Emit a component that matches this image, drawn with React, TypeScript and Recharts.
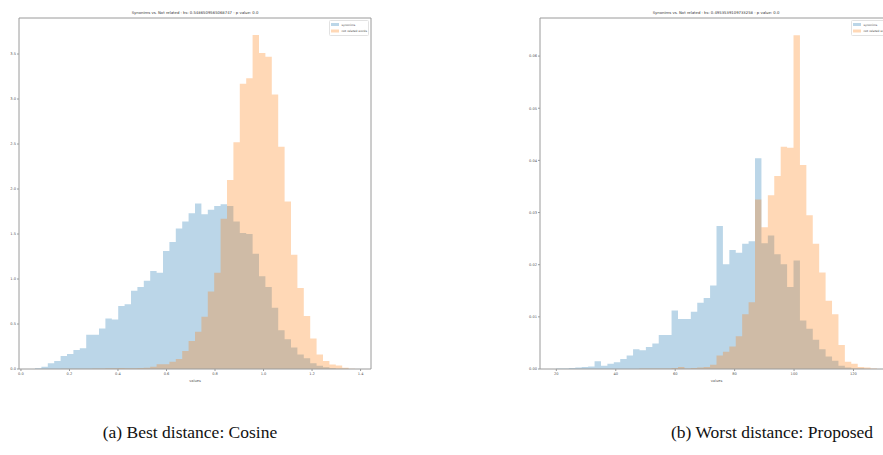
import { Area, ComposedChart, Legend, ReferenceLine, XAxis, YAxis } from 'recharts'

// histogram bins: both series share the same 50 edges per panel
const BINS = 50
const cosineRange = [0.058, 1.377]
const proposedRange = [19.9, 127.9]

const cosineSynonyms = [
	0.007, 0.026, 0.063, 0.089, 0.144, 0.167, 0.21, 0.23, 0.38, 0.38,
	0.45, 0.56, 0.55, 0.7, 0.72, 0.87, 0.91, 0.98, 1.09, 1.07,
	1.31, 1.41, 1.56, 1.64, 1.73, 1.84, 1.72, 1.77, 1.81, 1.83,
	1.81, 1.64, 1.51, 1.5, 1.28, 1.03, 0.91, 0.68, 0.43, 0.33,
	0.24, 0.16, 0.12, 0.063, 0.037, 0.019, 0.007, 0.004, 0.002, 0.001,
]
const cosineNotRelated = [
	0, 0, 0, 0.001, 0.002, 0.002, 0.003, 0.004, 0.004, 0.005,
	0.006, 0.008, 0.008, 0.01, 0.009, 0.008, 0.01, 0.015, 0.026, 0.053,
	0.053, 0.08, 0.11, 0.2, 0.31, 0.415, 0.58, 0.86, 1.07, 1.67,
	2.1, 2.52, 3.17, 3.23, 3.71, 3.51, 3.47, 3.05, 2.47, 1.86,
	1.27, 0.9, 0.59, 0.34, 0.16, 0.09, 0.05, 0.04, 0.015, 0.004,
]
const proposedSynonyms = [
	0.0001, 0.0001, 0.0002, 0.0003, 0.0004, 0.0005, 0.0015, 0.0006, 0.001, 0.0013,
	0.0019, 0.0026, 0.0038, 0.0036, 0.0042, 0.0049, 0.0065, 0.0065, 0.0112, 0.0096,
	0.0096, 0.011, 0.0127, 0.0136, 0.016, 0.0274, 0.0201, 0.0228, 0.0223, 0.024,
	0.0245, 0.0404, 0.0241, 0.0256, 0.022, 0.0201, 0.0157, 0.0208, 0.0093, 0.0077,
	0.0056, 0.0038, 0.0024, 0.0016, 0.0006, 0.0003, 0.0001, 0.0001, 0, 0,
]
const proposedNotRelated = [
	0, 0, 0, 0, 0, 0, 0, 0, 0, 0,
	0, 0, 0, 0.0001, 0.0001, 0.0001, 0.0001, 0.0001, 0.0002, 0.0004,
	0.0001, 0.0002, 0.0003, 0.0004, 0.0008, 0.0026, 0.0033, 0.0043, 0.0063, 0.0105,
	0.0128, 0.0325, 0.0272, 0.0333, 0.037, 0.0426, 0.0424, 0.064, 0.0391, 0.0295,
	0.024, 0.0185, 0.0131, 0.0105, 0.0046, 0.0014, 0.001, 0.0004, 0.0003, 0.0001,
]

const cosineXTicks = [0, 0.2, 0.4, 0.6, 0.8, 1.0, 1.2, 1.4]
const cosineYTicks = [0, 0.5, 1.0, 1.5, 2.0, 2.5, 3.0, 3.5]
const proposedXTicks = [20, 40, 60, 80, 100, 120]
const proposedYTicks = [0, 0.01, 0.02, 0.03, 0.04, 0.05, 0.06]

const seriesNames = ['synonims', 'not related words']
const cosineTitle = 'Synonims vs. Not related  - ks: 0.5486509565068747 - p value: 0.0'
const proposedTitle = 'Synonims vs. Not related  - ks: 0.4953539109733258 - p value: 0.0'

const BLUE = '#1f77b4'
const ORANGE = '#ff7f0e'
const SPINE = '#9a9a9a'
const FONT = 'DejaVu Sans, sans-serif'
const tickStyle = { fontSize: 3.6, fill: '#555', fontFamily: FONT }

function histRows(range: number[], syn: number[], nr: number[]) {
	const w = (range[1] - range[0]) / BINS
	const rows = []
	for (let i = 0; i <= BINS; i++) {
		rows.push({ x: range[0] + i * w, syn: i < BINS ? syn[i] : 0, nr: i < BINS ? nr[i] : 0 })
	}
	return rows
}

function HistLegend() {
	return (
		<svg width={40} height={16} style={{ display: 'block' }}>
			<rect x={0.5} y={0.5} width={39} height={15} fill='#fff' stroke='#e2e2e2' rx={1} />
			<rect x={2} y={3} width={8} height={3} fill={BLUE} fillOpacity={0.3} />
			<rect x={2} y={9.5} width={8} height={3} fill={ORANGE} fillOpacity={0.3} />
			<text x={12.5} y={5.8} fontSize={2.9} fill='#444' fontFamily={FONT}>{seriesNames[0]}</text>
			<text x={12.5} y={12.3} fontSize={2.9} fill='#444' fontFamily={FONT}>{seriesNames[1]}</text>
		</svg>
	)
}

type PanelProps = {
	left: number
	width: number
	yAxisWidth: number
	marginRight: number
	range: number[]
	syn: number[]
	nr: number[]
	xDomain: number[]
	yDomain: number[]
	xTicks: number[]
	yTicks: number[]
	xDigits: number
	yDigits: number
	legendLeft: number
}

function Panel(p: PanelProps) {
	const rows = histRows(p.range, p.syn, p.nr)
	return (
		<div style={{ position: 'absolute', left: p.left, top: 0 }}>
			<ComposedChart width={p.width} height={400} data={rows} margin={{ top: 18, right: p.marginRight, bottom: 0, left: 0 }}>
				<XAxis
					dataKey='x'
					type='number'
					domain={p.xDomain}
					ticks={p.xTicks}
					allowDataOverflow
					tickFormatter={(v) => Number(v).toFixed(p.xDigits)}
					tick={tickStyle}
					tickSize={2}
					tickMargin={1}
					stroke={SPINE}
					height={31}
					label={{ value: 'values', position: 'insideBottom', offset: 18, fontSize: 3.6, fill: '#555', fontFamily: FONT }}
				/>
				<YAxis
					type='number'
					domain={p.yDomain}
					ticks={p.yTicks}
					allowDataOverflow
					tickFormatter={(v) => Number(v).toFixed(p.yDigits)}
					tick={tickStyle}
					tickSize={2}
					tickMargin={1}
					stroke={SPINE}
					width={p.yAxisWidth}
				/>
				<Area dataKey='syn' name={seriesNames[0]} type='stepAfter' fill={BLUE} fillOpacity={0.3} stroke='none' isAnimationActive={false} />
				<Area dataKey='nr' name={seriesNames[1]} type='stepAfter' fill={ORANGE} fillOpacity={0.3} stroke='none' isAnimationActive={false} />
				<ReferenceLine y={p.yDomain[1]} stroke={SPINE} ifOverflow='extendDomain' />
				<ReferenceLine x={p.xDomain[1]} stroke={SPINE} ifOverflow='extendDomain' />
				<Legend
					layout='vertical'
					align='center'
					verticalAlign='middle'
					content={() => <HistLegend />}
					wrapperStyle={{ top: 20, left: p.legendLeft, width: 40, height: 16 }}
				/>
			</ComposedChart>
		</div>
	)
}

export default function App() {
	return (
		<div style={{ position: 'absolute', left: 0, top: 0, width: 883, height: 455, overflow: 'hidden', background: '#fff' }}>
			<Panel
				left={0}
				width={380}
				yAxisWidth={19}
				marginRight={9}
				range={cosineRange}
				syn={cosineSynonyms}
				nr={cosineNotRelated}
				xDomain={[-0.008, 1.443]}
				yDomain={[0, 3.9]}
				xTicks={cosineXTicks}
				yTicks={cosineYTicks}
				xDigits={1}
				yDigits={1}
				legendLeft={329}
			/>
			<Panel
				left={500}
				width={400}
				yAxisWidth={40}
				marginRight={7}
				range={proposedRange}
				syn={proposedSynonyms}
				nr={proposedNotRelated}
				xDomain={[14.5, 133.3]}
				yDomain={[0, 0.0673]}
				xTicks={proposedXTicks}
				yTicks={proposedYTicks}
				xDigits={0}
				yDigits={2}
				legendLeft={351}
			/>
			<svg width={883} height={20} style={{ position: 'absolute', left: 0, top: 0 }}>
				<text x={195} y={14} textAnchor='middle' fontSize={3.8} fill='#333' fontFamily={FONT}>{cosineTitle}</text>
				<text x={716} y={14} textAnchor='middle' fontSize={3.8} fill='#333' fontFamily={FONT}>{proposedTitle}</text>
			</svg>
			<div style={{ position: 'absolute', top: 422, left: 190, transform: 'translateX(-50%)', whiteSpace: 'nowrap', fontFamily: 'Liberation Serif, serif', fontSize: 17.5, color: '#111' }}>
				(a) Best distance: Cosine
			</div>
			<div style={{ position: 'absolute', top: 422, left: 772, transform: 'translateX(-50%)', whiteSpace: 'nowrap', fontFamily: 'Liberation Serif, serif', fontSize: 17.5, color: '#111' }}>
				(b) Worst distance: Proposed
			</div>
		</div>
	)
}
